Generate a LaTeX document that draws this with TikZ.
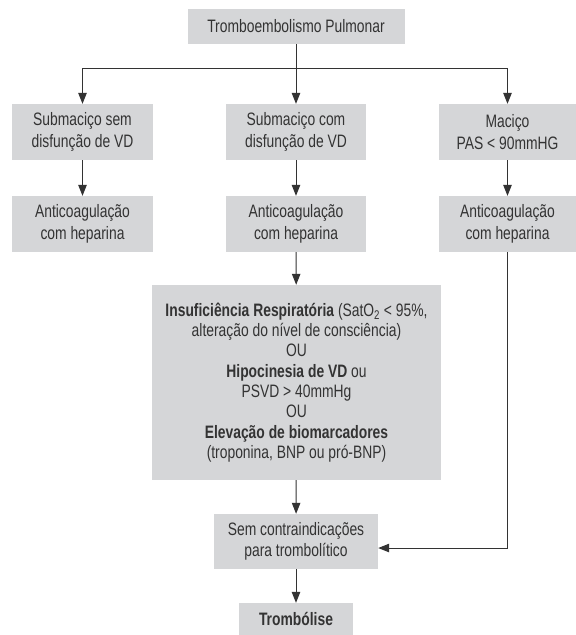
\documentclass[tikz,border=0pt]{standalone}
\usepackage{fontspec}
\setmainfont{Liberation Sans}[FakeStretch=0.77]
\usetikzlibrary{arrows.meta}
\definecolor{boxfill}{HTML}{D5D6D8}
\definecolor{ink}{HTML}{333333}
\begin{document}
\begin{tikzpicture}[x=1pt,y=-1pt,
  box/.style={rectangle, fill=boxfill, draw=none, inner sep=0pt, align=center,
    text=ink, font=\fontsize{18}{21.5}\selectfont},
  arr/.style={draw=ink, line width=1pt, -{Triangle[length=11pt,width=8.5pt]}},
  ln/.style={draw=ink, line width=1pt}]
\useasboundingbox (0,0) rectangle (576,635);
\fill[white] (0,0) rectangle (576,635);

\node[box, minimum width=217pt, minimum height=35pt] (top) at (296,26.5) {Tromboembolismo Pulmonar};

\node[box, minimum width=141pt, minimum height=56pt] (s1) at (82.5,132) {Submaciço sem\\disfunção de VD};
\node[box, minimum width=140pt, minimum height=56pt] (s2) at (296,132) {Submaciço com\\disfunção de VD};
\node[box, minimum width=137pt, minimum height=56pt] (s3) at (507.5,132) {Maciço\\PAS < 90mmHG};

\node[box, minimum width=141pt, minimum height=56pt] (a1) at (82.5,224) {Anticoagulação\\com heparina};
\node[box, minimum width=140pt, minimum height=56pt] (a2) at (296,224) {Anticoagulação\\com heparina};
\node[box, minimum width=137pt, minimum height=56pt] (a3) at (507.5,224) {Anticoagulação\\com heparina};

\node[box, minimum width=289pt, minimum height=195pt, font=\fontsize{18}{20.3}\selectfont] (big) at (296.5,382.5)
{{\bfseries Insuficiência Respiratória} (SatO\textsubscript{2} < 95\%,\\
alteração do nível de consciência)\\
OU\\
{\bfseries Hipocinesia de VD} ou\\
PSVD > 40mmHg\\
OU\\
{\bfseries Elevação de biomarcadores}\\
(troponina, BNP ou pró-BNP)};

\node[box, minimum width=164pt, minimum height=55pt] (sem) at (296,541.5) {Sem contraindicações\\para trombolítico};
\node[box, minimum width=114pt, minimum height=32pt, font=\fontsize{18}{21.5}\selectfont\bfseries] (tr) at (296,619) {\raisebox{-2pt}{Trombólise}};

\coordinate (j) at (296,68);
\draw[arr] (top) -- (s2);
\draw[arr] (j) -| (s1);
\draw[arr] (j) -| (s3);
\draw[arr] (s1) -- (a1);
\draw[arr] (s2) -- (a2);
\draw[arr] (s3) -- (a3);
\draw[arr] (a2) -- (big);
\draw[arr] (big) -- (sem);
\draw[arr] (sem) -- (tr);
\draw[arr] (a3.south) |- ([yshift=-6.5pt]sem.east);
\end{tikzpicture}
\end{document}
